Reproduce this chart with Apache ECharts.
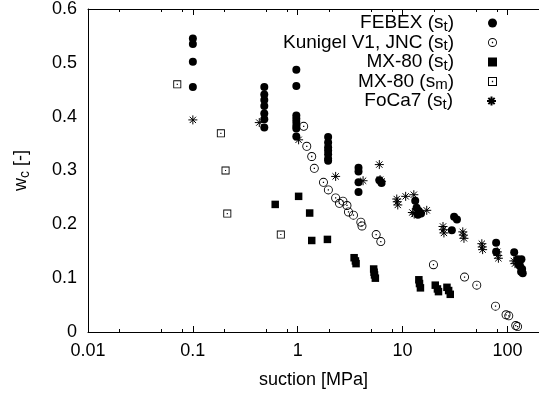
<!DOCTYPE html>
<html>
<head>
<meta charset="utf-8">
<script src="https://cdn.jsdelivr.net/npm/echarts@6/dist/echarts.min.js"></script>
<style>html,body{margin:0;padding:0;background:#fff}#chart{width:539px;height:398px}</style>
</head>
<body>
<div id="chart"></div>
<script>
// data: [suction MPa, water content]
var febex = [[0.1,0.545],[0.1,0.535],[0.1,0.502],[0.1,0.455],
  [0.48,0.455],[0.48,0.441],[0.48,0.431],[0.48,0.42],[0.48,0.406],[0.48,0.395],[0.48,0.38],
  [0.97,0.487],[0.97,0.457],[0.97,0.402],[0.97,0.396],[0.97,0.39],[0.97,0.383],[0.97,0.378],[0.97,0.363],
  [1.95,0.362],[1.95,0.352],[1.95,0.343],[1.95,0.337],[1.95,0.33],[1.95,0.322],[1.95,0.318],
  [3.8,0.305],[3.8,0.298],[3.8,0.278],[3.8,0.26],
  [6.0,0.282],[6.3,0.277],
  [13.2,0.244],[13.6,0.231],[14.3,0.225],[15.0,0.22],[14,0.218],
  [29.5,0.189],[31,0.214],[33,0.209],
  [78,0.166],[78,0.149],
  [116,0.148],[125,0.135],[136,0.135],[130,0.128],[132,0.122],[138,0.117],[135,0.112],[128,0.125],[140,0.109]];
var kunigel = [[1.14,0.382],[1.22,0.345],[1.36,0.326],[1.44,0.304],[1.76,0.278],[1.96,0.264],[2.3,0.249],
  [2.5,0.239],[2.7,0.243],[2.95,0.235],[3.05,0.223],[3.4,0.217],[4.0,0.204],[4.1,0.197],[5.6,0.181],
  [6.2,0.168],[19.7,0.125],[39,0.102],[51,0.087],[77,0.048],[97,0.032],[103,0.03],[120,0.012],[125,0.01]];
var mx80t = [[0.61,0.237],[1.02,0.252],[1.3,0.221],[1.36,0.17],[1.92,0.172],[3.45,0.138],[3.55,0.132],
  [3.6,0.127],[5.3,0.117],[5.35,0.111],[5.4,0.106],[5.5,0.1],[14.3,0.097],[14.5,0.09],[14.8,0.082],
  [20.5,0.087],[21.5,0.08],[22,0.075],[26.5,0.083],[27.5,0.077],[28.5,0.07]];
var mx80m = [[0.071,0.46],[0.185,0.369],[0.205,0.3],[0.213,0.22],[0.69,0.181]];
var foca7 = [[0.1,0.394],[0.43,0.389],[1.02,0.357],[2.3,0.289],[4.2,0.281],[6.0,0.311],[6.1,0.283],[6.3,0.28],
  [8.8,0.247],[8.9,0.242],[9.0,0.236],[10.7,0.252],[12.8,0.255],[12.4,0.222],[12.9,0.219],[17,0.226],
  [24.3,0.196],[24.5,0.19],[24.8,0.184],[37.5,0.186],[38,0.18],[38.5,0.174],[57,0.164],[57.5,0.158],
  [58,0.153],[80,0.149],[81,0.142],[82,0.137],[115,0.132],[118,0.127]];

var names = ['FEBEX (s_t)', 'Kunigel V1, JNC (s_t)', 'MX-80 (s_t)', 'MX-80 (s_m)', 'FoCa7 (s_t)'];
var majorTicks = [0.01, 0.1, 1, 10, 100];
var minorTicks = [0.02, 0.05, 0.08, 0.2, 0.5, 0.8, 2, 5, 8, 20, 50, 80, 200];

var FONT = 'Liberation Sans, Arial, sans-serif';
var ring = 'path://M5 0A5 5 0 1 1 5 10A5 5 0 1 1 5 0ZM5 1A4 4 0 1 0 5 9A4 4 0 1 0 5 1ZM4.3 4.3H5.7V5.7H4.3Z';
var boxDot = 'path://M0 0H10V10H0ZM1.1 1.1V8.9H8.9V1.1ZM4.3 4.3H5.7V5.7H4.3Z';
var star = 'path://M0 5H10M5 0V10M1.5 1.5L8.5 8.5M8.5 1.5L1.5 8.5';

function xAxis(pos, ticks, len, labels) {
  return {
    type: 'log', logBase: 10, min: 0.01, max: 200, position: pos,
    axisLine: { show: labels, lineStyle: { color: '#000', width: 1 } },
    axisTick: { show: true, inside: true, length: len, customValues: ticks, lineStyle: { color: '#000' } },
    axisLabel: labels && pos === 'bottom' ? {
      show: true, customValues: majorTicks, margin: 10, color: '#000', fontSize: 18, fontFamily: FONT,
      formatter: function (v) { return String(v); }
    } : { show: false },
    splitLine: { show: false },
    name: labels && pos === 'bottom' ? 'suction [MPa]' : '',
    nameLocation: 'middle', nameGap: 39,
    nameTextStyle: { color: '#000', fontSize: 18, fontFamily: FONT }
  };
}

var sub = { fontSize: 15, lineHeight: 12, verticalAlign: 'bottom', fontFamily: FONT, color: '#000' };
var rowTop = [12, 31.5, 51, 70.5, 90];

var chart = echarts.init(document.getElementById('chart'));
chart.setOption({
  animation: false,
  backgroundColor: '#fff',
  grid: { left: 88, top: 8, bottom: 66, right: -6, containLabel: false },
  xAxis: [
    xAxis('bottom', majorTicks, 6, true),
    xAxis('bottom', minorTicks, 3, false),
    xAxis('top', majorTicks, 6, true),
    xAxis('top', minorTicks, 3, false)
  ],
  yAxis: {
    type: 'value', min: 0, max: 0.6, interval: 0.1,
    axisLine: { show: true, lineStyle: { color: '#000', width: 1 } },
    axisTick: { show: false },
    splitLine: { show: false },
    axisLabel: { color: '#000', fontSize: 18, fontFamily: FONT, margin: 11,
      formatter: function (v) { return v === 0 ? '0' : v.toFixed(1); } },
    name: 'w{sub|c} [-]', nameLocation: 'middle', nameGap: 56, nameRotate: 90,
    nameTextStyle: { color: '#000', fontSize: 18, fontFamily: FONT, lineHeight: 22,
      rich: { sub: { fontSize: 14, lineHeight: 12, verticalAlign: 'bottom', fontFamily: FONT, color: '#000' } } }
  },
  legend: names.map(function (n, i) {
    return {
      orient: 'vertical', right: 42, top: rowTop[i], padding: 0, data: [n],
      align: 'right', itemWidth: 9, itemHeight: 9, selectedMode: false,
      formatter: function (s) { return s.replace(/_(\w)/, '{sub|$1}'); },
      textStyle: { color: '#000', fontSize: 19, fontFamily: FONT, lineHeight: 22,
        padding: [0, 29, 0, 0], rich: { sub: sub } }
    };
  }),
  series: [
    { name: names[0], type: 'scatter', data: febex, symbol: 'circle', symbolSize: 8,
      itemStyle: { color: '#000', opacity: 1 } },
    { name: names[1], type: 'scatter', data: kunigel, symbol: ring, symbolSize: 9,
      itemStyle: { color: '#000', opacity: 1 } },
    { name: names[2], type: 'scatter', data: mx80t, symbol: 'rect', symbolSize: 7.5,
      itemStyle: { color: '#000', opacity: 1 } },
    { name: names[3], type: 'scatter', data: mx80m, symbol: boxDot, symbolSize: 8,
      itemStyle: { color: '#000', opacity: 1 } },
    { name: names[4], type: 'scatter', data: foca7, symbol: star, symbolSize: 9,
      itemStyle: { color: 'rgba(0,0,0,0)', borderColor: '#000', borderWidth: 1, opacity: 1 } }
  ]
});
</script>
</body>
</html>
